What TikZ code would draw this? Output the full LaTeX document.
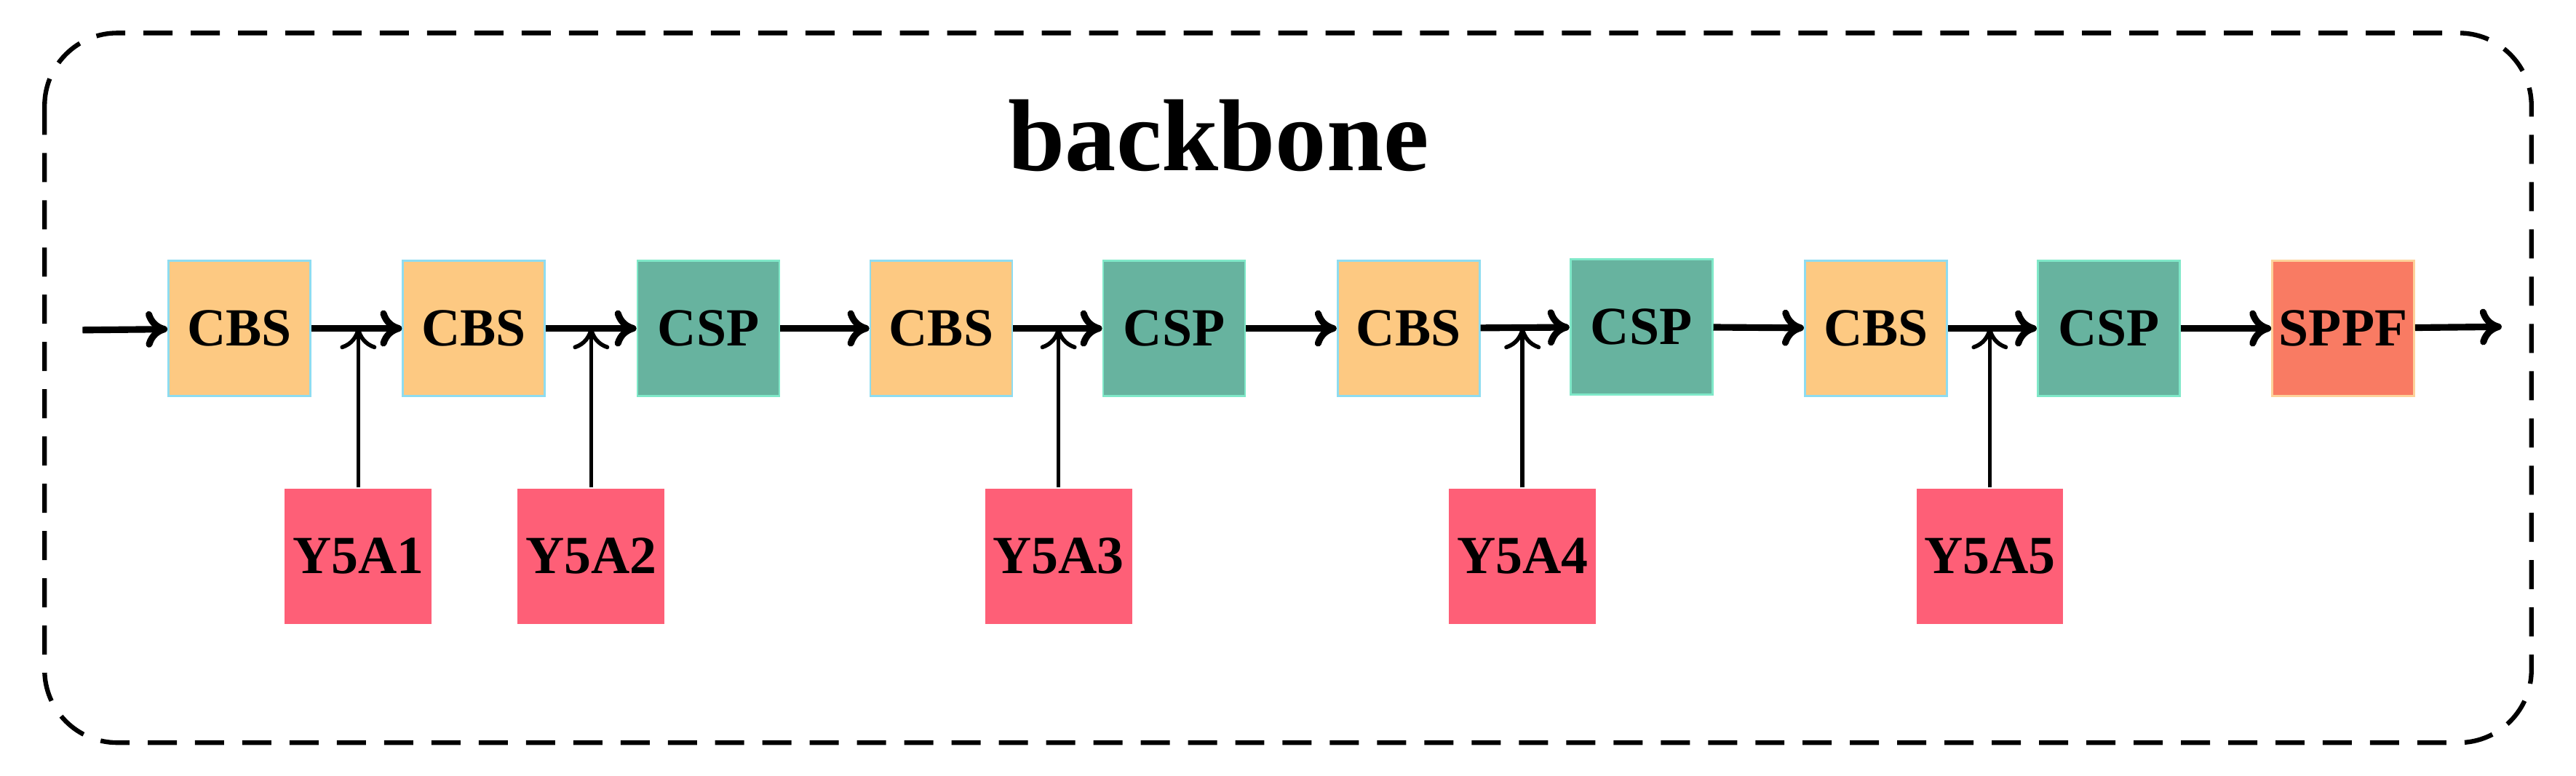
\documentclass[tikz,border=0pt]{standalone}
\usepackage{fontspec}
\setmainfont{Liberation Serif}
\usetikzlibrary{arrows.meta, positioning}
\definecolor{cbsfill}{HTML}{FDC982}
\definecolor{cbsline}{HTML}{8EDCF0}
\definecolor{cspfill}{HTML}{67B39F}
\definecolor{cspline}{HTML}{7FE8C8}
\definecolor{sppffill}{HTML}{F97B63}
\definecolor{sppfline}{HTML}{FDD29A}
\definecolor{yfill}{HTML}{FE5F77}
\tikzset{
  blk/.style={minimum width=19.5mm, minimum height=18.6mm, line width=0.8pt, font=\fontsize{21}{24}\selectfont\bfseries, inner sep=0pt},
  cbs/.style={blk, fill=cbsfill, draw=cbsline},
  csp/.style={blk, fill=cspfill, draw=cspline},
  sppf/.style={blk, fill=sppffill, draw=sppfline},
  yin/.style={blk, fill=yfill, draw=none, minimum width=20.2mm},
  flow/.style={-{To[length=3mm,width=5mm]}, line width=2.6pt},
  feed/.style={-{To[length=3mm,width=5mm]}, line width=1.6pt},
}
\begin{document}
\begin{tikzpicture}[x=0.227mm, y=-0.227mm]
    \useasboundingbox (0,0) rectangle (1560,470);

    % Frame and title
    \draw[dashed, line width=1.8pt, dash pattern=on 4mm off 2.5mm, rounded corners=10mm] (27,20) rectangle (1533,450);
    \node[font=\fontsize{40}{44}\selectfont\bfseries] (title) at (738,82) {backbone};

    % Main chain
    \node[cbs]  (b1)  at (145,199)  {CBS};
    \node[cbs]  (b2)  at (287,199)  {CBS};
    \node[csp]  (b3)  at (429,199)  {CSP};
    \node[cbs]  (b4)  at (570,199)  {CBS};
    \node[csp]  (b5)  at (711,199)  {CSP};
    \node[cbs]  (b6)  at (853,199)  {CBS};
    \node[csp]  (b7)  at (994,198)  {CSP};
    \node[cbs]  (b8)  at (1136,199) {CBS};
    \node[csp]  (b9)  at (1277,199) {CSP};
    \node[sppf] (b10) at (1419,199) {SPPF};
    \coordinate (in)  at (50,200);
    \coordinate (out) at (1515,198);

    % Side inputs
    \node[yin] (y1) at (217,337) {Y5A1};
    \node[yin] (y2) at (358,337) {Y5A2};
    \node[yin] (y3) at (641,337) {Y5A3};
    \node[yin] (y4) at (922,337) {Y5A4};
    \node[yin] (y5) at (1205,337) {Y5A5};

    \draw[flow] (in) -- (b1);
    \foreach \a/\b in {b1/b2, b2/b3, b3/b4, b4/b5, b5/b6, b6/b7, b7/b8, b8/b9, b9/b10}
        \draw[flow] (\a) -- (\b);
    \draw[flow] (b10) -- (out);

    \foreach \y in {y1, y2, y3, y4, y5}
        \draw[feed] (\y.north) -- ++(0,-97);
\end{tikzpicture}
\end{document}
